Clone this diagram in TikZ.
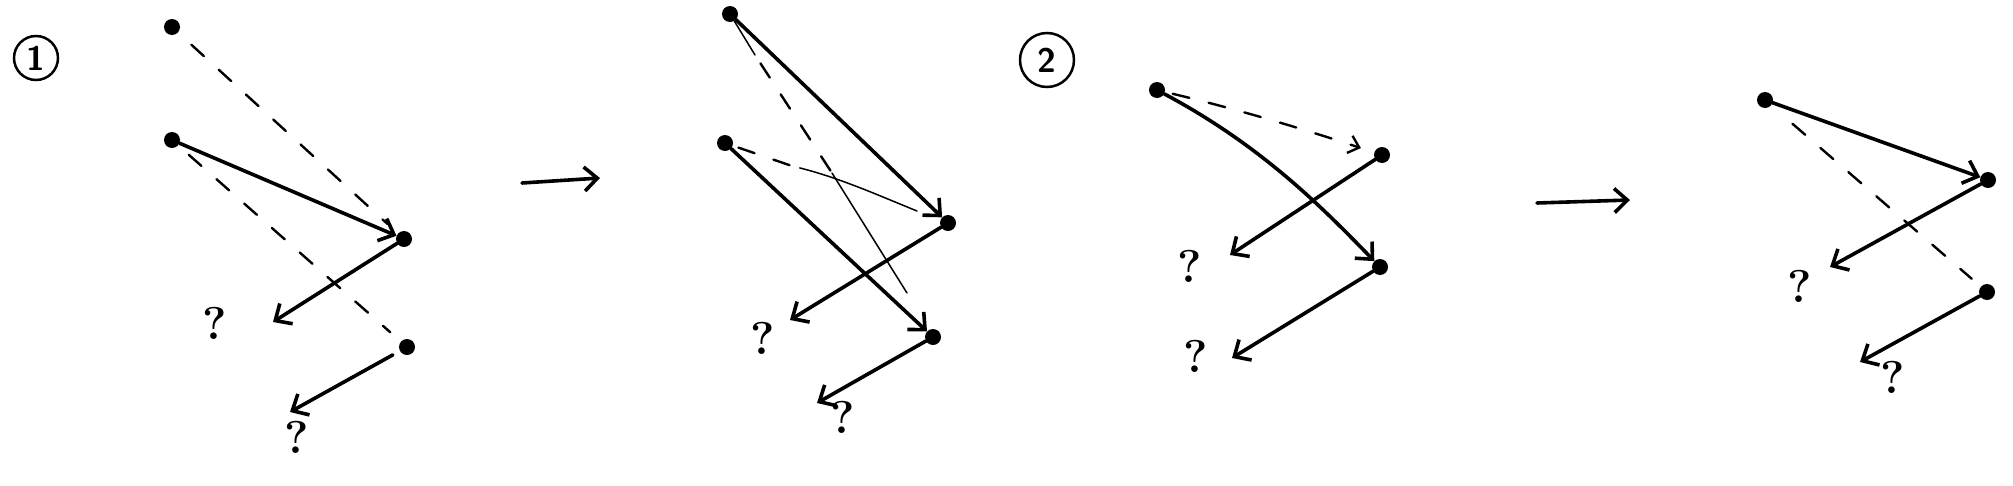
\documentclass[tikz,border=0pt]{standalone}
\usetikzlibrary{arrows.meta}
\begin{document}
\begin{tikzpicture}[x=1pt,y=-1pt,
  dot/.style={circle,fill=black,inner sep=0pt,minimum size=16pt},
  strk/.style={line width=3.6pt,line cap=round,-{Straight Barb[length=13pt,width=24pt]}},
  dsh/.style={line width=2.4pt,line cap=round,dash pattern=on 17pt off 20pt},
  thinl/.style={line width=1.5pt,line cap=round},
  qm/.style={font=\fontsize{46}{46}\selectfont\bfseries,inner sep=0pt},
  num/.style={circle,draw,line width=2.5pt,font=\fontsize{34}{34}\selectfont\sffamily\bfseries,inner sep=0pt}]
\useasboundingbox (0,0) rectangle (2013,485);

% ---------- panel 1 ----------
\node[num,minimum size=44pt] (n1) at (36,58) {1};
\node[dot] (a1) at (172,27) {};
\node[dot] (b1) at (172,140) {};
\node[dot] (c1) at (404,239) {};
\node[dot] (d1) at (407,347) {};
\coordinate (c1e) at (273,322);
\coordinate (d1e) at (290,412);
\node[qm] (q11) at (215,323) {?};
\node[qm] (q12) at (297,437) {?};
\draw[dsh,shorten <=18pt,shorten >=14pt] (a1) -- (c1);
\draw[dsh,shorten <=14pt,shorten >=14pt] (b1) -- (d1);
\draw[strk] (b1) -- (c1);
\draw[strk] (c1) -- (c1e);
\draw[strk,shorten <=8pt] (d1) -- (d1e);

% ---------- arrow between 1 and 2 ----------
\coordinate (p1s) at (522,183);
\coordinate (p1e) at (600,178);
\draw[strk] (p1s) -- (p1e);

% ---------- panel 2 ----------
\node[dot] (a2) at (730,14) {};
\node[dot] (b2) at (725,143) {};
\node[dot] (c2) at (948,223) {};
\node[dot] (d2) at (933,337) {};
\coordinate (c2e) at (790,320);
\coordinate (d2e) at (817,403);
\node[qm] (q21) at (763,338) {?};
\node[qm] (q22) at (843,417) {?};
\coordinate (m1) at (755,55);
\coordinate (m2) at (832,173);
\coordinate (m3) at (907,293);
\draw[thinl] (a2) -- (m1);
\draw[dsh,shorten <=10pt] (m1) -- (m2);
\draw[thinl] (m2) -- (m3);
\coordinate (m4) at (792,166);
\coordinate (m5) at (917,211);
\draw[dsh,shorten <=6pt] (b2) -- (m4);
\draw[thinl,shorten <=8pt] (m4) .. controls (840,178) and (880,196) .. (m5);
\draw[strk] (a2) -- (c2);
\draw[strk] (b2) -- (d2);
\draw[strk] (c2) -- (c2e);
\draw[strk] (d2) -- (d2e);

% ---------- panel 3 ----------
\node[num,minimum size=54pt] (n2) at (1047,60) {2};
\node[dot] (a3) at (1157,90) {};
\node[dot] (b3) at (1382,155) {};
\node[dot] (c3) at (1380,267) {};
\coordinate (b3e) at (1230,255);
\coordinate (c3e) at (1232,358);
\node[qm] (q31) at (1190,266) {?};
\node[qm] (q32) at (1196,356) {?};
\draw[dsh,shorten <=8pt,shorten >=14pt,-{Straight Barb[length=10pt,width=18pt]}] (a3) .. controls (1240,110) and (1300,128) .. (b3);
\draw[strk] (a3) .. controls (1260,145) and (1320,205) .. (c3);
\draw[strk] (b3) -- (b3e);
\draw[strk] (c3) -- (c3e);

% ---------- arrow between 3 and 4 ----------
\coordinate (p2s) at (1537,203);
\coordinate (p2e) at (1630,200);
\draw[strk] (p2s) -- (p2e);

% ---------- panel 4 ----------
\node[dot] (a4) at (1765,100) {};
\node[dot] (b4) at (1988,180) {};
\node[dot] (c4) at (1987,292) {};
\coordinate (b4e) at (1830,267);
\coordinate (c4e) at (1860,362);
\node[qm] (q41) at (1800,286) {?};
\node[qm] (q42) at (1893,377) {?};
\draw[strk] (a4) -- (b4);
\draw[dsh,shorten <=28pt,shorten >=12pt] (a4) -- (c4);
\draw[strk] (b4) -- (b4e);
\draw[strk] (c4) -- (c4e);
\end{tikzpicture}
\end{document}
